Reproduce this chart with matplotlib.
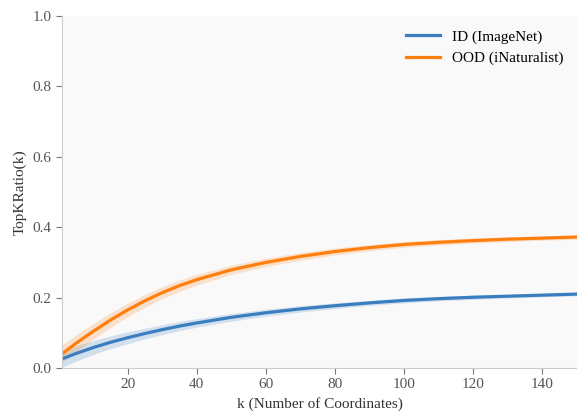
import numpy as np
import matplotlib
matplotlib.use('Agg')
import matplotlib.pyplot as plt

# values
k = [1, 5, 10, 15, 20, 25, 30, 35, 40, 50, 60, 70, 80, 90, 100, 110, 120, 130, 140, 150]
id_mean = [0.026, 0.041, 0.058, 0.073, 0.086, 0.098, 0.109, 0.119, 0.128, 0.144,
           0.157, 0.168, 0.177, 0.185, 0.192, 0.197, 0.201, 0.204, 0.207, 0.210]
id_std = [0.024, 0.022, 0.020, 0.018, 0.017, 0.015, 0.014, 0.013, 0.012, 0.011,
          0.010, 0.009, 0.008, 0.007, 0.007, 0.006, 0.006, 0.005, 0.005, 0.005]
ood_mean = [0.040, 0.070, 0.104, 0.136, 0.165, 0.191, 0.214, 0.234, 0.251, 0.279,
            0.300, 0.317, 0.331, 0.342, 0.351, 0.357, 0.362, 0.366, 0.369, 0.372]
ood_std = [0.025, 0.024, 0.022, 0.021, 0.019, 0.018, 0.017, 0.016, 0.015, 0.013,
           0.012, 0.011, 0.010, 0.009, 0.008, 0.008, 0.007, 0.007, 0.006, 0.006]

plt.rcParams['font.family'] = ['Liberation Serif', 'DejaVu Serif']
plt.rcParams['font.size'] = 11

blue = '#3a7ebf'
orange = '#ff7f0e'

fig = plt.figure(figsize=(5.77, 4.16), dpi=100)
ax = fig.add_axes([0.1075, 0.1154, 0.8925, 0.8461])
ax.set_facecolor('#f9f9f9')

k_arr = np.array(k)
for m, s, c, lab in [(id_mean, id_std, blue, 'ID (ImageNet)'),
                     (ood_mean, ood_std, orange, 'OOD (iNaturalist)')]:
    m = np.array(m)
    s = np.array(s)
    ax.fill_between(k_arr, m - s, m + s, color=c, alpha=0.2, lw=0)
    ax.plot(k_arr, m, color=c, lw=2.3, label=lab)

ax.set_xlim(1, 150)
ax.set_ylim(0, 1.0)
ax.set_xticks([20, 40, 60, 80, 100, 120, 140])
ax.set_yticks([0.0, 0.2, 0.4, 0.6, 0.8, 1.0])
ax.set_xlabel('k (Number of Coordinates)', color='#333333')
ax.set_ylabel('TopKRatio(k)', color='#333333')

for sp in ['top', 'right']:
    ax.spines[sp].set_visible(False)
for sp in ['left', 'bottom']:
    ax.spines[sp].set_color('#cccccc')
ax.tick_params(axis='both', colors='#777777', labelcolor='#555555', length=4)

leg = ax.legend(loc='upper right', frameon=False, fontsize=11, handlelength=2.2)

fig.savefig('out.png', dpi=100)
